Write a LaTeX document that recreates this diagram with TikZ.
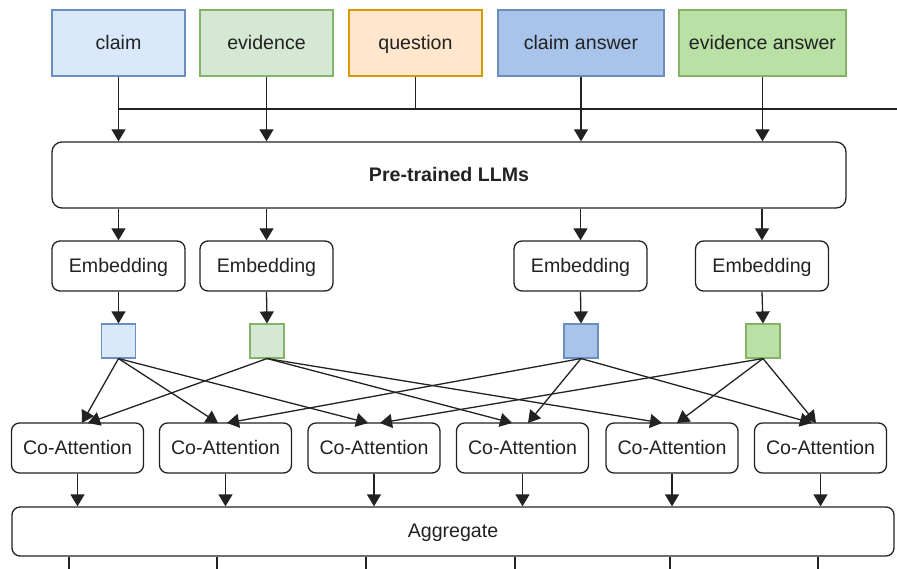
\documentclass[tikz,border=0pt]{standalone}
\usepackage{fontspec}
\setmainfont{Liberation Sans}
\usetikzlibrary{arrows.meta,calc}

\definecolor{claimfill}{HTML}{DAE8FC}
\definecolor{claimline}{HTML}{6C8EBF}
\definecolor{evfill}{HTML}{D5E8D4}
\definecolor{evline}{HTML}{82B366}
\definecolor{qfill}{HTML}{FFE6CC}
\definecolor{qline}{HTML}{D79B00}
\definecolor{cafill}{HTML}{A9C4EB}
\definecolor{eafill}{HTML}{B9E0A5}
\definecolor{ink}{HTML}{222222}

\tikzset{
  txt/.style={font=\fontsize{19.6}{23}\selectfont, text=ink, text height=16pt, text depth=3.5pt},
  inbox/.style={txt, draw, line width=1.1pt, minimum width=133pt, minimum height=66pt, inner sep=0pt},
  roundbox/.style={txt, draw=ink, fill=white, line width=1.3pt, rounded corners=8pt, inner sep=0pt},
  embbox/.style={roundbox, minimum width=133pt, minimum height=50pt},
  cabox/.style={roundbox, minimum width=132pt, minimum height=50pt},
  vec/.style={draw, line width=1.1pt, minimum width=34pt, minimum height=34pt, inner sep=0pt},
  arr/.style={draw=ink, line width=1.3pt, -{Triangle[width=14pt,length=12pt]}},
  wire/.style={draw=ink, line width=1.3pt}
}

\begin{document}
\begin{tikzpicture}[x=1pt,y=-1pt]
  \useasboundingbox (0,0) rectangle (897,569);

  % inputs
  \node[inbox, fill=claimfill, draw=claimline] (claim)    at (118.5,43) {claim};
  \node[inbox, fill=evfill,    draw=evline]    (evid)     at (266.5,43) {evidence};
  \node[inbox, fill=qfill,     draw=qline]     (quest)    at (415.5,43) {question};
  \node[inbox, fill=cafill,    draw=claimline, minimum width=166pt] (cans) at (581,43) {claim answer};
  \node[inbox, fill=eafill,    draw=evline,    minimum width=167pt] (eans) at (762.5,43) {evidence answer};

  % language model
  \node[roundbox, rounded corners=10pt, minimum width=794pt, minimum height=66pt,
        font=\fontsize{19.6}{23}\selectfont\bfseries] (llm) at (449,175) {Pre-trained LLMs};

  % embeddings
  \node[embbox] (e1) at (118.5,266) {Embedding};
  \node[embbox] (e2) at (266.5,266) {Embedding};
  \node[embbox] (e3) at (580.5,266) {Embedding};
  \node[embbox] (e4) at (762,266)   {Embedding};

  % embedding vectors
  \node[vec, fill=claimfill, draw=claimline] (s1) at (118.5,341) {};
  \node[vec, fill=evfill,    draw=evline]    (s2) at (267,341)   {};
  \node[vec, fill=cafill,    draw=claimline] (s3) at (581,341)   {};
  \node[vec, fill=eafill,    draw=evline]    (s4) at (763,341)   {};

  % co-attention blocks
  \node[cabox] (ca1) at (77.5,448)  {Co-Attention};
  \node[cabox] (ca2) at (225.5,448) {Co-Attention};
  \node[cabox] (ca3) at (374,448)   {Co-Attention};
  \node[cabox] (ca4) at (522.5,448) {Co-Attention};
  \node[cabox] (ca5) at (672,448)   {Co-Attention};
  \node[cabox] (ca6) at (820.5,448) {Co-Attention};

  % aggregation
  \node[roundbox, minimum width=882pt, minimum height=49pt] (agg) at (453,531.5) {Aggregate};

  % shared bus from the inputs
  \coordinate (busend) at (897,109);
  \draw[wire] (claim.south |- busend) -- (busend);
  \draw[wire] (quest.south) -- (quest.south |- busend);
  \draw[arr] (claim.south) -- (claim.south |- llm.north);
  \draw[arr] (evid.south)  -- (evid.south |- llm.north);
  \draw[arr] (cans.south)  -- (cans.south |- llm.north);
  \draw[arr] (eans.south)  -- (eans.south |- llm.north);

  % model -> embeddings -> vectors
  \foreach \i in {1,2,3,4}{
    \draw[arr] (llm.south -| e\i.north) -- (e\i.north);
    \draw[arr] (e\i.south) -- (s\i.north);
  }

  % entry points on the co-attention blocks
  \coordinate (c1a) at (82,423);   \coordinate (c1b) at (88,423);
  \coordinate (c2a) at (218,423);  \coordinate (c2b) at (227,423);
  \coordinate (c3a) at (368,423);  \coordinate (c3b) at (380,423);
  \coordinate (c4a) at (512,423);  \coordinate (c4b) at (528,423);
  \coordinate (c5a) at (662,423);  \coordinate (c5b) at (677,423);
  \coordinate (c6a) at (812,423);  \coordinate (c6b) at (816,423);

  % pairwise connections
  \draw[arr] (s1.south) -- (c1a);
  \draw[arr] (s2.south) -- (c1b);
  \draw[arr] (s1.south) -- (c2a);
  \draw[arr] (s3.south) -- (c2b);
  \draw[arr] (s1.south) -- (c3a);
  \draw[arr] (s4.south) -- (c3b);
  \draw[arr] (s2.south) -- (c4a);
  \draw[arr] (s3.south) -- (c4b);
  \draw[arr] (s2.south) -- (c5a);
  \draw[arr] (s4.south) -- (c5b);
  \draw[arr] (s3.south) -- (c6a);
  \draw[arr] (s4.south) -- (c6b);

  % co-attention -> aggregate
  \foreach \i in {1,...,6}{
    \draw[arr] (ca\i.south) -- (ca\i.south |- agg.north);
  }

  % outputs leaving the aggregate
  \coordinate (o1) at (69,569);
  \coordinate (o2) at (217,569);
  \coordinate (o3) at (366,569);
  \coordinate (o4) at (515,569);
  \coordinate (o5) at (670,569);
  \coordinate (o6) at (818,569);
  \foreach \i in {1,...,6}{
    \draw[wire] (agg.south -| o\i) -- (o\i);
  }
\end{tikzpicture}
\end{document}
